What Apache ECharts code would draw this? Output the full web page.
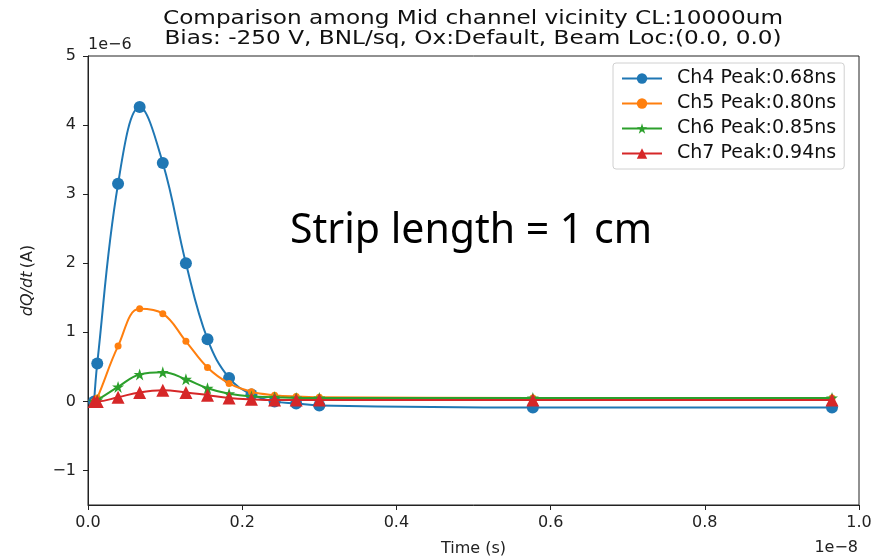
<!DOCTYPE html>
<html><head><meta charset="utf-8">
<script src="https://cdn.jsdelivr.net/npm/echarts@6/dist/echarts.min.js"></script>
<style>html,body{margin:0;padding:0;background:#fff}#c{width:876px;height:559px}</style>
</head><body><div id="c"></div>
<script>
// time in units of 1e-8 s, current in units of 1e-6 A
const time = [0.008, 0.012, 0.039, 0.067, 0.097, 0.127, 0.155, 0.183, 0.212, 0.242, 0.270, 0.300, 0.577, 0.965];
const ch4 = [0, 0.55, 3.15, 4.26, 3.45, 2.0, 0.90, 0.34, 0.10, 0.0, -0.03, -0.06, -0.09, -0.09];
const ch5 = [0, 0.05, 0.80, 1.34, 1.27, 0.87, 0.49, 0.26, 0.14, 0.09, 0.07, 0.06, 0.05, 0.05];
const ch6 = [0, 0.02, 0.21, 0.39, 0.42, 0.32, 0.19, 0.11, 0.07, 0.06, 0.05, 0.05, 0.05, 0.05];
const ch7 = [0, 0.0, 0.06, 0.13, 0.16, 0.13, 0.09, 0.05, 0.03, 0.02, 0.02, 0.02, 0.02, 0.02];
const seriesNames = ['Ch4 Peak:0.68ns', 'Ch5 Peak:0.80ns', 'Ch6 Peak:0.85ns', 'Ch7 Peak:0.94ns'];
const yTicks = [-1, 0, 1, 2, 3, 4, 5];
const titleLines = ['Comparison among Mid channel vicinity CL:10000um', 'Bias: -250 V, BNL/sq, Ox:Default, Beam Loc:(0.0, 0.0)'];

const colors = ['#1f77b4', '#ff7f0e', '#2ca02c', '#d62728'];
const star = 'path://M50,0 L61.8,35.5 L100,35.5 L69.1,57.5 L80.9,93 L50,71 L19.1,93 L30.9,57.5 L0,35.5 L38.2,35.5 Z';
const symbols = ['circle', 'circle', star, 'triangle'];
const sizes = [12, 7, 12, 13];
const allVals = [ch4, ch5, ch6, ch7];
const font = 'DejaVu Sans';

const chart = echarts.init(document.getElementById('c'), null, {renderer: 'canvas'});
chart.setOption({
  animation: false,
  backgroundColor: '#fff',
  grid: {left: 88, right: 17, top: 56, bottom: 54, show: true, borderColor: '#222', borderWidth: 1,
    backgroundColor: 'transparent', containLabel: false, outerBoundsMode: 'none'},
  legend: {
    left: 613, top: 63, orient: 'vertical',
    data: seriesNames,
    itemWidth: 40, itemHeight: 13, itemGap: 6,
    padding: [6, 8, 6, 8],
    borderColor: '#d0d0d0', borderWidth: 1, borderRadius: 3,
    backgroundColor: '#fff',
    textStyle: {fontFamily: font, fontSize: 19, color: '#111', padding: [0, 0, 0, 10]}
  },
  xAxis: {
    type: 'value', min: 0, max: 1, interval: 0.2,
    axisLine: {show: true, onZero: false, lineStyle: {color: '#222'}},
    axisTick: {show: true, inside: false, length: 5, lineStyle: {color: '#222'}},
    axisLabel: {fontFamily: font, fontSize: 16, color: '#222', margin: 10, formatter: v => v.toFixed(1)},
    splitLine: {show: false},
    name: 'Time (s)', nameLocation: 'middle', nameGap: 36,
    nameTextStyle: {fontFamily: font, fontSize: 16, color: '#222'}
  },
  yAxis: {
    type: 'value', min: -1.5, max: 5,
    axisLine: {show: true, onZero: false, lineStyle: {color: '#222'}},
    axisTick: {show: true, inside: false, length: 5, lineStyle: {color: '#222'}, customValues: yTicks},
    axisLabel: {fontFamily: font, fontSize: 16, color: '#222', margin: 12, customValues: yTicks,
      formatter: v => String(v).replace('-', '\u2212')},
    splitLine: {show: false},
    name: '{i|dQ/dt} {n|(A)}', nameLocation: 'middle', nameGap: 52, nameRotate: 90,
    nameTextStyle: {rich: {i: {fontFamily: font, fontSize: 16, fontStyle: 'italic', color: '#222'}, n: {fontFamily: font, fontSize: 16, color: '#222'}}}
  },
  series: seriesNames.map((name, k) => ({
    name, type: 'line',
    data: time.map((t, i) => [t, allVals[k][i]]),
    smooth: 0.4,
    symbol: symbols[k], symbolSize: sizes[k], showAllSymbol: true,
    itemStyle: {color: colors[k]},
    lineStyle: {color: colors[k], width: 2},
    z: 2 + k
  })),
  graphic: [
    {type: 'text', x: 473, y: 19, scaleX: 1.22, style: {text: titleLines[0], font: '19px "DejaVu Sans"', fill: '#111', align: 'center', verticalAlign: 'middle'}},
    {type: 'text', x: 473, y: 39, scaleX: 1.22, style: {text: titleLines[1], font: '19px "DejaVu Sans"', fill: '#111', align: 'center', verticalAlign: 'middle'}},
    {type: 'text', left: 88, top: 37, style: {text: '1e\u22126', font: '16px "DejaVu Sans"', fill: '#222'}},
    {type: 'text', right: 18, top: 540, style: {text: '1e\u22128', font: '16px "DejaVu Sans"', fill: '#222'}},
    {type: 'text', left: 290, top: 211, style: {text: 'Strip length = 1 cm', font: '41px "Noto Sans"', fill: '#000'}}
  ]
});
</script></body></html>
